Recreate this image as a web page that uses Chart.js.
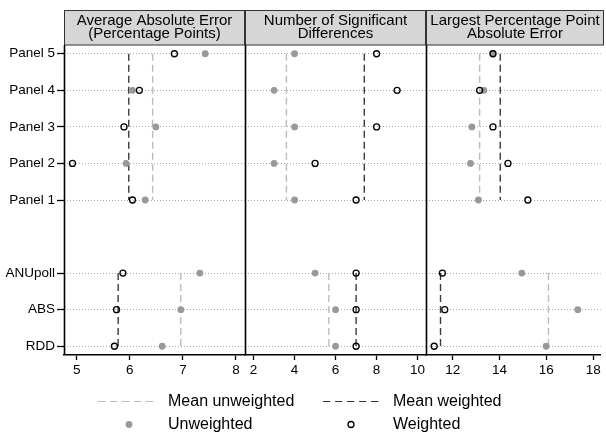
<!DOCTYPE html>
<html>
<head>
<meta charset="utf-8">
<script src="https://cdn.jsdelivr.net/npm/chart.js@4"></script>
<style>
  html, body { margin: 0; padding: 0; background: #fff; }
  #wrap { position: relative; width: 606px; height: 436px; overflow: hidden; }
  #wrap canvas { position: absolute; left: 0; top: 0; }
  .lg { position: absolute; font: 16px "Liberation Sans", Arial, sans-serif; color: #000; line-height: 16px; white-space: nowrap; }
  #legendSvg { position: absolute; left: 0; top: 0; }
</style>
</head>
<body>
<div id="wrap">
  <canvas id="c1" width="606" height="436"></canvas>
  <canvas id="c2" width="606" height="436"></canvas>
  <canvas id="c3" width="606" height="436"></canvas>
  <svg id="legendSvg" width="606" height="436">
    <line x1="98" y1="401.5" x2="158" y2="401.5" stroke="#bbbbbb" stroke-width="1.2" stroke-dasharray="7.3,4.7"/>
    <line x1="323" y1="401.5" x2="382" y2="401.5" stroke="#333333" stroke-width="1.2" stroke-dasharray="7.3,4.7"/>
    <circle cx="129" cy="424.5" r="3.4" fill="#999999"/>
    <circle cx="351" cy="424.5" r="3" fill="none" stroke="#000" stroke-width="1.3"/>
  </svg>
  <div class="lg" style="left:168px; top:393px;">Mean unweighted</div>
  <div class="lg" style="left:393px; top:393px;">Mean weighted</div>
  <div class="lg" style="left:168px; top:416px;">Unweighted</div>
  <div class="lg" style="left:393px; top:416px;">Weighted</div>
</div>
<script>
// 행 라벨 (아래에서 위로)
var rowLabels = ['RDD', 'ABS', 'ANUpoll', 'Panel 1', 'Panel 2', 'Panel 3', 'Panel 4', 'Panel 5'];
var rowPos = [1, 2, 3, 5, 6, 7, 8, 9];

// Average Absolute Error
var aaeUnweighted = [6.61, 6.96, 7.32, 6.29, 5.93, 6.49, 6.05, 7.42];
var aaeWeighted = [5.71, 5.75, 5.87, 6.05, 4.92, 5.89, 6.18, 6.84];
// Number of Significant Differences
var sigUnweighted = [6, 6, 5, 4, 3, 4, 3, 4];
var sigWeighted = [7, 7, 7, 7, 5, 8, 9, 8];
// Largest Percentage Point Absolute Error
var lppUnweighted = [15.99, 17.34, 14.95, 13.10, 12.76, 12.82, 13.33, 13.72];
var lppWeighted = [11.21, 11.66, 11.56, 15.21, 14.36, 13.72, 13.15, 13.72];

// 평균 (surveys 그룹, panels 그룹)
var aaeMeanUnw = [6.96, 6.43];
var aaeMeanWtd = [5.78, 5.98];
var sigMeanUnw = [5.67, 3.6];
var sigMeanWtd = [7, 7.4];
var lppMeanUnw = [16.09, 13.15];
var lppMeanWtd = [11.48, 14.03];
// 그룹별 세로 범위
var groupSpan = [[1, 3], [5, 9]];

// x축 눈금
var aaeTicks = [5, 6, 7, 8];
var sigTicks = [2, 4, 6, 8, 10];
var lppTicks = [12, 14, 16, 18];

var FONT = '"Liberation Sans", Arial, sans-serif';

var panels = [
    { id: 'c1', title: ['Average Absolute Error', '(Percentage Points)'], unw: aaeUnweighted, wtd: aaeWeighted,
      mUnw: aaeMeanUnw, mWtd: aaeMeanWtd, ticks: aaeTicks, min: 4.76, max: 8.17, left: 0, yWidth: 64, right: 245, headRight: 245 },
    { id: 'c2', title: ['Number of Significant', 'Differences'], unw: sigUnweighted, wtd: sigWeighted,
      mUnw: sigMeanUnw, mWtd: sigMeanWtd, ticks: sigTicks, min: 1.58, max: 10.41, left: 245, yWidth: 0, right: 426, headRight: 426 },
    { id: 'c3', title: ['Largest Percentage Point', 'Absolute Error'], unw: lppUnweighted, wtd: lppWeighted,
      mUnw: lppMeanUnw, mWtd: lppMeanWtd, ticks: lppTicks, min: 10.86, max: 18.32, left: 426, yWidth: 0, right: 606, headRight: 604 }
];

function toPoints(vals) {
    return vals.map(function(v, i) { return { x: v, y: rowPos[i] }; });
}

function meanLine(m, span, color, order) {
    return {
        data: [{ x: m, y: span[1] }, { x: m, y: span[0] }],
        showLine: true,
        borderColor: color,
        borderWidth: 1.4,
        borderDash: [7, 4],
        pointRadius: 0,
        order: order
    };
}

// 헤더 + 왼쪽 세로선
var framePlugin = {
    id: 'frame',
    afterDraw: function(chart) {
        var ctx = chart.ctx;
        var a = chart.chartArea;
        var p = chart.options.plugins.frame;
        ctx.save();
        ctx.fillStyle = '#d6d6d6';
        ctx.fillRect(a.left, 10, p.headRight - a.left, 35);
        ctx.strokeStyle = '#333';
        ctx.lineWidth = 1;
        ctx.strokeRect(a.left + 0.5, 10.5, p.headRight - a.left - 1, 34.5);
        ctx.fillStyle = '#000';
        ctx.font = '15px ' + FONT;
        ctx.textAlign = 'center';
        ctx.textBaseline = 'alphabetic';
        var cx = (a.left + p.headRight) / 2;
        ctx.fillText(p.title[0], cx, 25.3);
        ctx.fillText(p.title[1], cx, 38);
        ctx.strokeStyle = '#000';
        ctx.lineWidth = 1.6;
        ctx.beginPath();
        ctx.moveTo(a.left + 0.5, 45);
        ctx.lineTo(a.left + 0.5, a.bottom);
        ctx.stroke();
        ctx.restore();
    }
};

panels.forEach(function(p, k) {
    var datasets = [
        { data: toPoints(p.wtd), pointStyle: 'circle', pointRadius: 3, pointBackgroundColor: 'rgba(0,0,0,0)',
          pointBorderColor: '#000', pointBorderWidth: 1.3, showLine: false, order: 0 },
        { data: toPoints(p.unw), pointStyle: 'circle', pointRadius: 3.4, pointBackgroundColor: '#999999',
          pointBorderColor: '#999999', pointBorderWidth: 0, showLine: false, order: 1 }
    ];
    for (var g = 0; g < 2; g++) {
        datasets.push(meanLine(p.mWtd[g], groupSpan[g], '#3a3a3a', 2));
        datasets.push(meanLine(p.mUnw[g], groupSpan[g], '#bcbcbc', 3));
    }

    new Chart(document.getElementById(p.id).getContext('2d'), {
        type: 'scatter',
        data: { datasets: datasets },
        options: {
            responsive: false,
            animation: false,
            events: [],
            layout: { padding: { left: p.left, right: 606 - p.right, top: 45, bottom: 0 } },
            plugins: {
                legend: { display: false },
                tooltip: { enabled: false },
                frame: { title: p.title, headRight: p.headRight }
            },
            scales: {
                x: {
                    type: 'linear',
                    min: p.min,
                    max: p.max,
                    afterBuildTicks: function(scale) {
                        scale.ticks = p.ticks.map(function(v) { return { value: v }; });
                    },
                    afterFit: function(scale) {
                        scale.height = 81;
                        scale.paddingLeft = 0;
                        scale.paddingRight = 0;
                    },
                    ticks: { color: '#000', font: { size: 13.5, family: FONT }, padding: 2, maxRotation: 0, autoSkip: false },
                    grid: { display: true, drawOnChartArea: false, drawTicks: true, tickLength: 5, tickColor: '#000', tickWidth: 1.3 },
                    border: { display: true, color: '#000', width: 1.6 }
                },
                y: {
                    type: 'linear',
                    min: 0.76,
                    max: 9.24,
                    afterBuildTicks: function(scale) {
                        scale.ticks = rowPos.map(function(v) { return { value: v }; });
                    },
                    afterFit: function(scale) {
                        scale.width = p.yWidth;
                        scale.paddingTop = 0;
                        scale.paddingBottom = 0;
                    },
                    ticks: {
                        display: k === 0,
                        color: '#000',
                        font: { size: 13.5, family: FONT },
                        padding: 2,
                        autoSkip: false,
                        callback: function(value) { return rowLabels[rowPos.indexOf(value)]; }
                    },
                    grid: { display: true, drawOnChartArea: true, drawTicks: k === 0, tickLength: 7,
                            tickColor: '#000', tickWidth: 1.3, color: '#a8a8a8', lineWidth: 1 },
                    border: { display: false, dash: [1, 2] }
                }
            }
        },
        plugins: [framePlugin]
    });
});
</script>
</body>
</html>
